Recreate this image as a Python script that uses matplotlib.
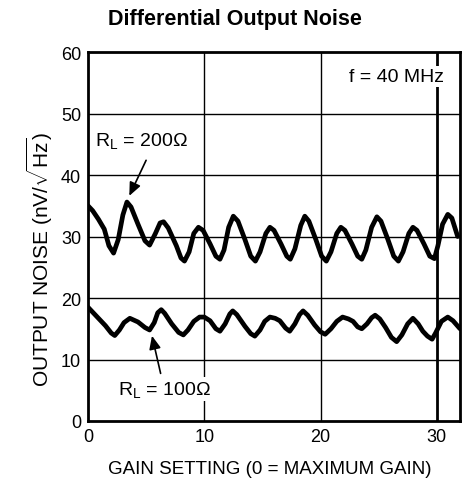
import matplotlib
matplotlib.use("Agg")
import matplotlib.pyplot as plt

plt.rcParams['font.family'] = ['Liberation Sans', 'DejaVu Sans']
plt.rcParams['mathtext.fontset'] = 'custom'
plt.rcParams['mathtext.rm'] = 'Liberation Sans'
plt.rcParams['mathtext.it'] = 'Liberation Sans:italic'

# R_L = 200 ohm curve
gain_200 = [0, 0.4, 0.9, 1.4, 1.8, 2.2, 2.6, 3.0, 3.35, 3.7, 4.3, 4.9, 5.3, 5.8, 6.2, 6.5,
            6.9, 7.6, 8.0, 8.3, 8.7, 9.1, 9.5, 9.9, 10.5, 11.0, 11.35, 11.7, 12.1, 12.5,
            12.9, 13.5, 14.0, 14.4, 14.8, 15.3, 15.65, 16.0, 16.6, 17.1, 17.4, 17.8, 18.3,
            18.65, 19.0, 19.6, 20.1, 20.5, 20.9, 21.4, 21.75, 22.1, 22.7, 23.2, 23.55, 23.9,
            24.4, 24.85, 25.2, 25.8, 26.3, 26.7, 27.1, 27.6, 27.95, 28.3, 28.9, 29.4, 29.8,
            30.1, 30.5, 30.95, 31.3, 31.8]
noise_200 = [35.0, 34.2, 32.8, 31.2, 28.5, 27.3, 29.5, 33.5, 35.6, 34.8, 32.0, 29.3, 28.6,
             30.5, 32.2, 32.4, 31.4, 28.5, 26.5, 26.0, 27.5, 30.5, 31.5, 31.0, 28.8, 26.8,
             26.3, 27.8, 31.5, 33.3, 32.5, 29.5, 26.8, 26.0, 27.5, 30.5, 31.5, 31.0, 28.8,
             26.8, 26.3, 28.0, 31.8, 33.3, 32.5, 29.5, 26.8, 26.0, 27.5, 30.5, 31.5, 31.0,
             28.8, 26.8, 26.3, 27.8, 31.5, 33.2, 32.5, 29.5, 26.8, 26.0, 27.5, 30.5, 31.5,
             31.0, 28.8, 26.8, 26.4, 28.5, 32.0, 33.6, 33.0, 30.0]

# R_L = 100 ohm curve
gain_100 = [0, 0.5, 1.0, 1.5, 2.0, 2.3, 2.7, 3.1, 3.6, 4.3, 4.9, 5.3, 5.7, 6.0, 6.3, 6.6,
            7.2, 7.8, 8.2, 8.6, 9.1, 9.6, 10.0, 10.5, 11.0, 11.35, 11.8, 12.2, 12.45, 12.8,
            13.5, 14.0, 14.35, 14.8, 15.2, 15.65, 16.1, 16.5, 17.0, 17.35, 17.8, 18.2, 18.5,
            18.9, 19.5, 20.0, 20.4, 20.9, 21.4, 21.9, 22.4, 22.8, 23.2, 23.55, 24.0, 24.4,
            24.7, 25.1, 25.6, 26.1, 26.55, 27.0, 27.5, 27.95, 28.4, 28.8, 29.2, 29.6, 29.9,
            30.4, 30.95, 31.4, 32.0]
noise_100 = [18.5, 17.5, 16.5, 15.5, 14.3, 13.9, 14.8, 16.0, 16.7, 16.1, 15.2, 14.8, 16.0,
             17.6, 18.1, 17.5, 15.8, 14.4, 14.0, 14.8, 16.2, 16.9, 16.9, 16.3, 15.0, 14.6,
             15.8, 17.4, 17.9, 17.3, 15.4, 14.2, 13.8, 14.8, 16.2, 16.9, 16.7, 16.3, 15.1,
             14.6, 15.8, 17.3, 17.9, 17.2, 15.6, 14.5, 14.1, 15.0, 16.2, 16.9, 16.6, 16.2,
             15.3, 15.0, 15.8, 16.8, 17.2, 16.6, 15.2, 13.6, 12.9, 14.0, 15.8, 16.7, 15.8,
             14.6, 13.8, 13.3, 14.3, 16.2, 16.9, 16.3, 15.0]

x_ticks = [0, 10, 20, 30]
y_ticks = [0, 10, 20, 30, 40, 50, 60]

fig = plt.figure(figsize=(4.65, 4.89), dpi=100)
ax = fig.add_axes([88/465, 1 - 422/489, (460 - 88)/465, (422 - 53)/489])

ax.set_xlim(0, 32)
ax.set_ylim(0, 60)
ax.set_xticks(x_ticks)
ax.set_yticks(y_ticks)
ax.tick_params(length=0, labelsize=13, pad=5)

for yv in y_ticks[1:-1]:
    ax.axhline(yv, color='black', lw=1.0, zorder=1)
for xv in x_ticks[1:3]:
    ax.axvline(xv, color='black', lw=1.0, zorder=1)
ax.axvline(30, color='black', lw=2.0, zorder=1)

for s in ax.spines.values():
    s.set_linewidth(2.0)

ax.plot(gain_200, noise_200, color='black', lw=3.4, solid_joinstyle='round',
        solid_capstyle='round', zorder=3)
ax.plot(gain_100, noise_100, color='black', lw=3.4, solid_joinstyle='round',
        solid_capstyle='round', zorder=3)

bbox = dict(facecolor='white', edgecolor='none', pad=1.5)
ax.text(4.6, 45.7, r'R$_\mathrm{L}$ = 200Ω', ha='center', va='center', fontsize=14,
        bbox=bbox, zorder=4)
ax.annotate('', xy=(3.45, 36.2), xytext=(5.1, 42.8),
            arrowprops=dict(arrowstyle='-|>,head_length=0.8,head_width=0.35',
                            color='black', lw=1.2), zorder=4)
ax.text(6.6, 5.2, r'R$_\mathrm{L}$ = 100Ω', ha='center', va='center', fontsize=14,
        bbox=bbox, zorder=4)
ax.annotate('', xy=(5.45, 14.3), xytext=(6.3, 7.3),
            arrowprops=dict(arrowstyle='-|>,head_length=0.8,head_width=0.35',
                            color='black', lw=1.2), zorder=4)
ax.text(26.5, 56.0, 'f = 40 MHz', ha='center', va='center', fontsize=14,
        bbox=bbox, zorder=4)

fig.text(270 / 465, 1 - 470 / 489, 'GAIN SETTING (0 = MAXIMUM GAIN)',
         ha='center', va='center', fontsize=13.5)
fig.text(40 / 465, 1 - 260 / 489, r'OUTPUT NOISE (nV/$\sqrt{\mathrm{Hz}}$)',
         ha='center', va='center', fontsize=15, rotation=90)
fig.text(235 / 465, 1 - 20 / 489, 'Differential Output Noise',
         ha='center', va='center', fontsize=15.5, fontweight='bold')

fig.savefig('out.png', dpi=100)
